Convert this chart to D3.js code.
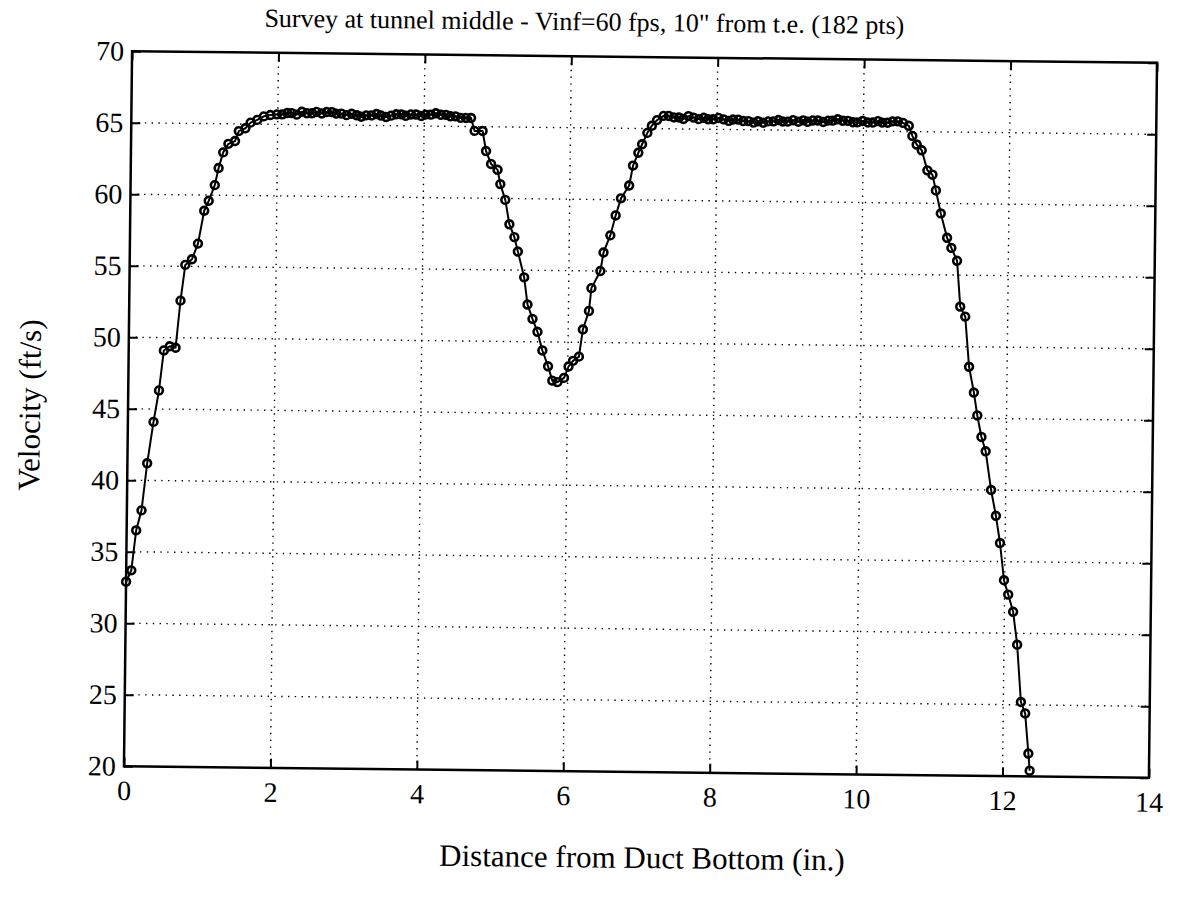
<!DOCTYPE html>
<html>
<head>
<meta charset="utf-8">
<script src="https://cdn.jsdelivr.net/npm/d3@7"></script>
<style>
  html, body { margin: 0; padding: 0; background: #fff; }
  svg { display: block; }
  text { font-family: "Liberation Serif", "Times New Roman", serif; fill: #000; }
</style>
</head>
<body>
<svg id="chart" width="1179" height="911"></svg>
<script>
// Velocity survey, tunnel middle: distance from duct bottom (in.) vs velocity (ft/s)
const riseX = [0.00, 0.07, 0.13, 0.20, 0.27, 0.35, 0.42, 0.48, 0.56, 0.64, 0.70, 0.76, 0.85, 0.93,
  1.01, 1.07, 1.15, 1.20, 1.26, 1.33, 1.42, 1.47, 1.56, 1.63, 1.72, 1.81, 1.90, 1.99];
const riseV = [32.9, 33.7, 36.5, 37.9, 41.2, 44.1, 46.3, 49.1, 49.4, 49.3, 52.6, 55.1, 55.5, 56.6,
  58.9, 59.6, 60.7, 61.9, 63.0, 63.6, 63.8, 64.5, 64.7, 65.1, 65.3, 65.55, 65.65, 65.7];

const plateau1X = [2.06, 2.13, 2.19, 2.26, 2.33, 2.40, 2.47, 2.53, 2.60, 2.67, 2.74, 2.80, 2.87, 2.94,
  3.01, 3.08, 3.14, 3.21, 3.28, 3.35, 3.41, 3.48, 3.55, 3.62, 3.69, 3.75, 3.82, 3.89, 3.96, 4.02,
  4.09, 4.16, 4.23, 4.30, 4.36, 4.43, 4.50, 4.57];
const plateau1V = [65.7, 65.8, 65.8, 65.7, 65.9, 65.8, 65.8, 65.9, 65.8, 65.9, 65.9, 65.8, 65.8, 65.7,
  65.8, 65.7, 65.6, 65.7, 65.7, 65.8, 65.7, 65.6, 65.7, 65.8, 65.8, 65.7, 65.8, 65.8, 65.7, 65.8,
  65.8, 65.9, 65.8, 65.8, 65.7, 65.7, 65.6, 65.6];

const dipX = [4.64, 4.69, 4.80, 4.85, 4.92, 5.01, 5.05, 5.12, 5.18, 5.25, 5.30, 5.39, 5.44, 5.51,
  5.58, 5.65, 5.73, 5.79, 5.86, 5.95, 6.01, 6.07, 6.15, 6.20, 6.28, 6.31, 6.43, 6.47, 6.56, 6.63,
  6.70, 6.81, 6.86, 6.93, 6.98, 7.05, 7.11, 7.18, 7.27];
const dipV = [65.6, 64.7, 64.7, 63.3, 62.4, 62.0, 61.0, 59.9, 58.2, 57.3, 56.3, 54.5, 52.6, 51.6,
  50.7, 49.4, 48.3, 47.3, 47.2, 47.5, 48.3, 48.7, 49.0, 50.9, 52.2, 53.8, 55.0, 56.3, 57.5, 58.9,
  60.1, 61.0, 62.4, 63.3, 63.9, 64.7, 65.2, 65.6, 65.9];

const plateau2X = [7.34, 7.41, 7.48, 7.54, 7.61, 7.68, 7.75, 7.82, 7.88, 7.95, 8.02, 8.09, 8.16, 8.22,
  8.29, 8.36, 8.43, 8.50, 8.56, 8.63, 8.70, 8.77, 8.84, 8.90, 8.97, 9.04, 9.11, 9.18, 9.24, 9.31,
  9.38, 9.45, 9.52, 9.58, 9.65, 9.72, 9.79, 9.86, 9.92, 9.99, 10.06, 10.13, 10.20, 10.26, 10.33, 10.40];
const plateau2V = [65.9, 65.8, 65.8, 65.7, 65.9, 65.8, 65.7, 65.8, 65.7, 65.7, 65.8, 65.7, 65.6, 65.7,
  65.7, 65.6, 65.6, 65.5, 65.6, 65.5, 65.6, 65.6, 65.7, 65.6, 65.6, 65.7, 65.6, 65.7, 65.6, 65.7,
  65.7, 65.6, 65.7, 65.7, 65.8, 65.7, 65.7, 65.6, 65.6, 65.7, 65.6, 65.6, 65.7, 65.6, 65.6, 65.7];

const fallX = [10.47, 10.54, 10.62, 10.67, 10.73, 10.80, 10.88, 10.95, 11.00, 11.07, 11.16, 11.22,
  11.30, 11.35, 11.42, 11.48, 11.55, 11.60, 11.66, 11.72, 11.80, 11.87, 11.93, 11.99, 12.05, 12.12,
  12.18, 12.24, 12.30, 12.35, 12.37];
const fallV = [65.7, 65.6, 65.4, 64.7, 64.1, 63.7, 62.3, 62.0, 60.9, 59.3, 57.6, 56.9, 56.0, 52.8,
  52.1, 48.6, 46.8, 45.2, 43.7, 42.7, 40.0, 38.2, 36.3, 33.7, 32.7, 31.5, 29.2, 25.2, 24.4, 21.6, 20.4];

const xTicks = [0, 2, 4, 6, 8, 10, 12, 14];
const yTicks = [20, 25, 30, 35, 40, 45, 50, 55, 60, 65, 70];

const titleText = 'Survey at tunnel middle - Vinf=60 fps, 10" from t.e. (182 pts)';
const xLabelText = "Distance from Duct Bottom (in.)";
const yLabelText = "Velocity (ft/s)";

// assemble the survey points in traverse order
const distances = [].concat(riseX, plateau1X, dipX, plateau2X, fallX);
const velocities = [].concat(riseV, plateau1V, dipV, plateau2V, fallV);
const points = distances.map((d, i) => ({ d: d, v: velocities[i] }));

const box = { left: 128, right: 1153, top: 57, bottom: 772 };
const x = d3.scaleLinear().domain([0, 14]).range([box.left, box.right]);
const y = d3.scaleLinear().domain([20, 70]).range([box.bottom, box.top]);

const svg = d3.select("#chart");
// whole figure sits with a slight clockwise tilt
const fig = svg.append("g").attr("transform", "rotate(0.65 640 414)");

// dotted grid
const grid = fig.append("g")
  .attr("stroke", "#000")
  .attr("stroke-width", 1.4)
  .attr("stroke-dasharray", "1.4,5.4")
  .attr("fill", "none");
grid.selectAll("line.gx").data(xTicks.slice(1, -1)).join("line")
  .attr("class", "gx")
  .attr("x1", d => x(d)).attr("x2", d => x(d))
  .attr("y1", box.top).attr("y2", box.bottom);
grid.selectAll("line.gy").data(yTicks.slice(1, -1)).join("line")
  .attr("class", "gy")
  .attr("x1", box.left).attr("x2", box.right)
  .attr("y1", d => y(d)).attr("y2", d => y(d));

// axes: inward ticks on all four sides
const tickLen = 9;
function styleAxis(g) {
  g.select(".domain").remove();
  g.selectAll(".tick line").attr("stroke", "#000").attr("stroke-width", 2);
  g.selectAll(".tick text").attr("font-size", 28).attr("font-family", "Liberation Serif, serif");
}
fig.append("g").attr("transform", `translate(0,${box.bottom})`)
  .call(d3.axisBottom(x).tickValues(xTicks).tickSize(-tickLen).tickPadding(14).tickFormat(d3.format("d")))
  .call(styleAxis);
fig.append("g").attr("transform", `translate(0,${box.top})`)
  .call(d3.axisTop(x).tickValues(xTicks).tickSize(-tickLen).tickFormat(""))
  .call(styleAxis);
fig.append("g").attr("transform", `translate(${box.left},0)`)
  .call(d3.axisLeft(y).tickValues(yTicks).tickSize(-tickLen).tickPadding(8).tickFormat(d3.format("d")))
  .call(styleAxis);
fig.append("g").attr("transform", `translate(${box.right},0)`)
  .call(d3.axisRight(y).tickValues(yTicks).tickSize(-tickLen).tickFormat(""))
  .call(styleAxis);

// plot frame
fig.append("rect")
  .attr("x", box.left).attr("y", box.top)
  .attr("width", box.right - box.left).attr("height", box.bottom - box.top)
  .attr("fill", "none").attr("stroke", "#000").attr("stroke-width", 2.5);

// velocity profile line
const line = d3.line().x(p => x(p.d)).y(p => y(p.v));
fig.append("path").datum(points)
  .attr("d", line)
  .attr("fill", "none").attr("stroke", "#000").attr("stroke-width", 2)
  .attr("stroke-linejoin", "round");

// circle markers
fig.append("g").selectAll("circle").data(points).join("circle")
  .attr("cx", p => x(p.d)).attr("cy", p => y(p.v))
  .attr("r", 3.9)
  .attr("fill", "none").attr("stroke", "#000").attr("stroke-width", 2.6);

// title and axis labels
fig.append("text")
  .attr("x", 580).attr("y", 31)
  .attr("text-anchor", "middle").attr("font-size", 26)
  .text(titleText);
fig.append("text")
  .attr("x", 647).attr("y", 868)
  .attr("text-anchor", "middle").attr("font-size", 31)
  .text(xLabelText);
fig.append("text")
  .attr("transform", "translate(40,412) rotate(-90)")
  .attr("text-anchor", "middle").attr("font-size", 31)
  .text(yLabelText);
</script>
</body>
</html>
